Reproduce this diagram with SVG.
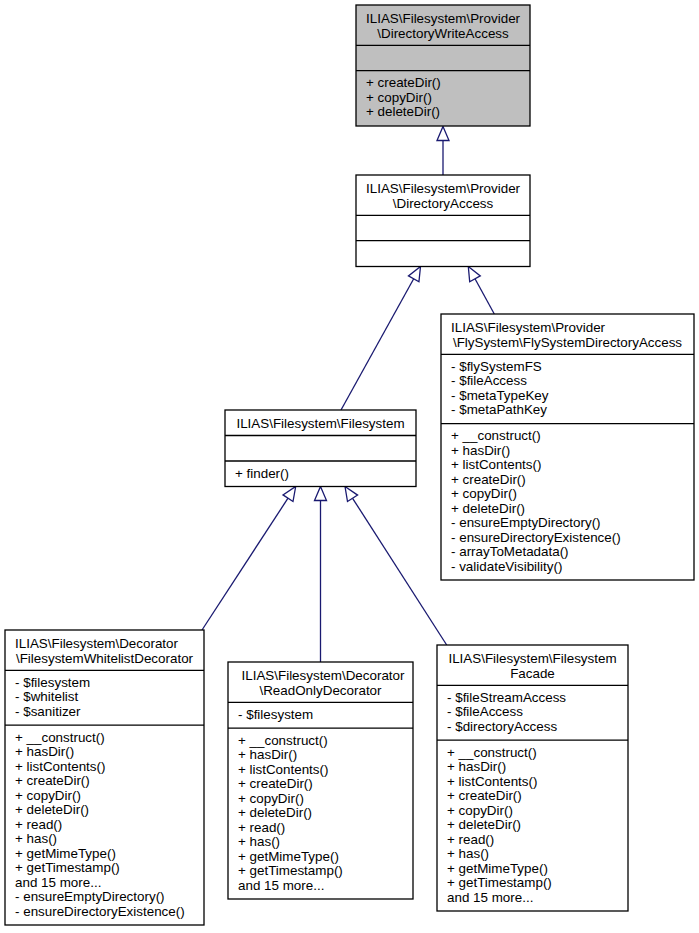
<svg xmlns="http://www.w3.org/2000/svg" width="699" height="933" viewBox="0 0 699 933">
<style>
  .box { fill: #ffffff; stroke: #000000; stroke-width: 1.3; }
  .gray { fill: #bfbfbf; }
  .sep { stroke: #000000; stroke-width: 1.3; }
  text { font-family: "Liberation Sans", Arial, Helvetica, sans-serif; font-size: 13.4px; fill: #000000; }
  .c { text-anchor: middle; }
  .edge { stroke: #191970; stroke-width: 1.3; fill: none; }
  .head { stroke: #191970; stroke-width: 1.3; fill: #ffffff; }
</style>
<rect width="699" height="933" fill="#ffffff"/>

<g id="connectors">
  <line class="edge" x1="443" y1="175" x2="443" y2="140.5"/>
  <polygon class="head" points="443,126.5 449,140.5 437,140.5"/>

  <line class="edge" x1="341" y1="410" x2="413.7" y2="278.8"/>
  <polygon class="head" points="420.5,266.5 418.95,281.7 408.45,275.9"/>

  <line class="edge" x1="494.3" y1="314" x2="475" y2="278.8"/>
  <polygon class="head" points="468.3,266.5 480.3,275.9 469.7,281.7"/>

  <line class="edge" x1="202" y1="630" x2="288" y2="498.2"/>
  <polygon class="head" points="295.7,486.5 293,501.5 283,494.9"/>

  <line class="edge" x1="320.5" y1="662" x2="320.5" y2="500.5"/>
  <polygon class="head" points="320.5,486.5 326.5,500.5 314.5,500.5"/>

  <line class="edge" x1="446.7" y1="645" x2="352.6" y2="498.3"/>
  <polygon class="head" points="345,486.5 357.6,495.1 347.5,501.5"/>
</g>

<g id="DirectoryWriteAccess">
  <rect class="box gray" x="356" y="5" width="174" height="121"/>
  <line class="sep" x1="356" y1="45.3" x2="530" y2="45.3"/>
  <line class="sep" x1="356" y1="70.7" x2="530" y2="70.7"/>
  <text x="366" y="23">ILIAS\Filesystem\Provider</text>
  <text class="c" x="443" y="37.5">\DirectoryWriteAccess</text>
  <text x="366" y="87">+ createDir()</text>
  <text x="366" y="101.5">+ copyDir()</text>
  <text x="366" y="116">+ deleteDir()</text>
</g>

<g id="DirectoryAccess">
  <rect class="box" x="356" y="175" width="174" height="91.5"/>
  <line class="sep" x1="356" y1="215.3" x2="530" y2="215.3"/>
  <line class="sep" x1="356" y1="240.7" x2="530" y2="240.7"/>
  <text x="366" y="193">ILIAS\Filesystem\Provider</text>
  <text class="c" x="443" y="207.5">\DirectoryAccess</text>
</g>

<g id="Filesystem">
  <rect class="box" x="225" y="410" width="191" height="76.5"/>
  <line class="sep" x1="225" y1="435.5" x2="416" y2="435.5"/>
  <line class="sep" x1="225" y1="461" x2="416" y2="461"/>
  <text class="c" x="320.5" y="428">ILIAS\Filesystem\Filesystem</text>
  <text x="235" y="477.5">+ finder()</text>
</g>

<g id="FlySystemDirectoryAccess">
  <rect class="box" x="441" y="314" width="253" height="266"/>
  <line class="sep" x1="441" y1="354.3" x2="694" y2="354.3"/>
  <line class="sep" x1="441" y1="423.6" x2="694" y2="423.6"/>
  <text x="451" y="332">ILIAS\Filesystem\Provider</text>
  <text class="c" x="567.5" y="346.5">\FlySystem\FlySystemDirectoryAccess</text>
  <text x="451" y="370.8">- $flySystemFS</text>
  <text x="451" y="385.3">- $fileAccess</text>
  <text x="451" y="399.8">- $metaTypeKey</text>
  <text x="451" y="414.3">- $metaPathKey</text>
  <text x="451" y="440.1">+ __construct()</text>
  <text x="451" y="454.6">+ hasDir()</text>
  <text x="451" y="469.1">+ listContents()</text>
  <text x="451" y="483.6">+ createDir()</text>
  <text x="451" y="498.1">+ copyDir()</text>
  <text x="451" y="512.6">+ deleteDir()</text>
  <text x="451" y="527.1">- ensureEmptyDirectory()</text>
  <text x="451" y="541.6">- ensureDirectoryExistence()</text>
  <text x="451" y="556.1">- arrayToMetadata()</text>
  <text x="451" y="570.6">- validateVisibility()</text>
</g>

<g id="FilesystemWhitelistDecorator">
  <rect class="box" x="5" y="630" width="199" height="295"/>
  <line class="sep" x1="5" y1="670.3" x2="204" y2="670.3"/>
  <line class="sep" x1="5" y1="725.2" x2="204" y2="725.2"/>
  <text x="15" y="648">ILIAS\Filesystem\Decorator</text>
  <text class="c" x="104.5" y="662.5">\FilesystemWhitelistDecorator</text>
  <text x="15" y="686.8">- $filesystem</text>
  <text x="15" y="701.3">- $whitelist</text>
  <text x="15" y="715.8">- $sanitizer</text>
  <text x="15" y="741.7">+ __construct()</text>
  <text x="15" y="756.2">+ hasDir()</text>
  <text x="15" y="770.7">+ listContents()</text>
  <text x="15" y="785.2">+ createDir()</text>
  <text x="15" y="799.7">+ copyDir()</text>
  <text x="15" y="814.2">+ deleteDir()</text>
  <text x="15" y="828.7">+ read()</text>
  <text x="15" y="843.2">+ has()</text>
  <text x="15" y="857.7">+ getMimeType()</text>
  <text x="15" y="872.2">+ getTimestamp()</text>
  <text x="15" y="886.7">and 15 more...</text>
  <text x="15" y="901.2">- ensureEmptyDirectory()</text>
  <text x="15" y="915.7">- ensureDirectoryExistence()</text>
</g>

<g id="ReadOnlyDecorator">
  <rect class="box" x="228" y="662" width="185" height="237"/>
  <line class="sep" x1="228" y1="702.3" x2="413" y2="702.3"/>
  <line class="sep" x1="228" y1="728.1" x2="413" y2="728.1"/>
  <text class="c" x="323" y="680">ILIAS\Filesystem\Decorator</text>
  <text class="c" x="320.5" y="694.5">\ReadOnlyDecorator</text>
  <text x="238" y="718.8">- $filesystem</text>
  <text x="238" y="744.6">+ __construct()</text>
  <text x="238" y="759.1">+ hasDir()</text>
  <text x="238" y="773.6">+ listContents()</text>
  <text x="238" y="788.1">+ createDir()</text>
  <text x="238" y="802.6">+ copyDir()</text>
  <text x="238" y="817.1">+ deleteDir()</text>
  <text x="238" y="831.6">+ read()</text>
  <text x="238" y="846.1">+ has()</text>
  <text x="238" y="860.6">+ getMimeType()</text>
  <text x="238" y="875.1">+ getTimestamp()</text>
  <text x="238" y="889.6">and 15 more...</text>
</g>

<g id="FilesystemFacade">
  <rect class="box" x="437" y="645" width="191" height="266"/>
  <line class="sep" x1="437" y1="685.3" x2="628" y2="685.3"/>
  <line class="sep" x1="437" y1="740.1" x2="628" y2="740.1"/>
  <text class="c" x="532.5" y="663">ILIAS\Filesystem\Filesystem</text>
  <text class="c" x="532.5" y="677.5">Facade</text>
  <text x="447" y="701.8">- $fileStreamAccess</text>
  <text x="447" y="716.3">- $fileAccess</text>
  <text x="447" y="730.8">- $directoryAccess</text>
  <text x="447" y="756.6">+ __construct()</text>
  <text x="447" y="771.1">+ hasDir()</text>
  <text x="447" y="785.6">+ listContents()</text>
  <text x="447" y="800.1">+ createDir()</text>
  <text x="447" y="814.6">+ copyDir()</text>
  <text x="447" y="829.1">+ deleteDir()</text>
  <text x="447" y="843.6">+ read()</text>
  <text x="447" y="858.1">+ has()</text>
  <text x="447" y="872.6">+ getMimeType()</text>
  <text x="447" y="887.1">+ getTimestamp()</text>
  <text x="447" y="901.6">and 15 more...</text>
</g>

</svg>
